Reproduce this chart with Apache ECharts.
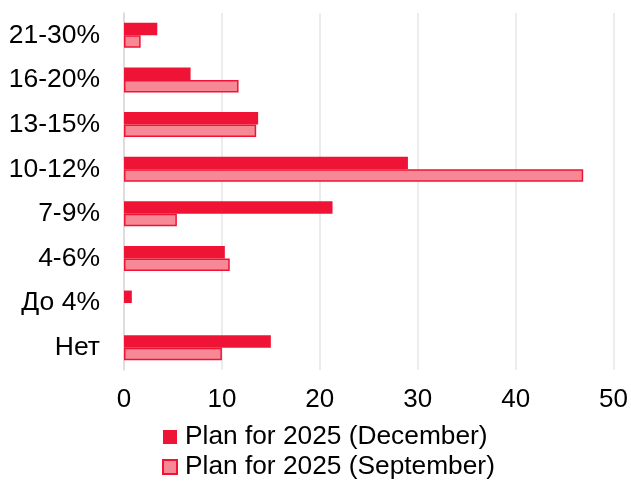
<!DOCTYPE html>
<html><head><meta charset="utf-8">
<script src="https://cdn.jsdelivr.net/npm/echarts@6/dist/echarts.min.js"></script>
<style>html,body{margin:0;padding:0;background:#fff}#c{width:631px;height:482px}</style>
</head><body><div id="c"></div>
<script>
const categories = ['21-30%','16-20%','13-15%','10-12%','7-9%','4-6%','До 4%','Нет'];
const decValues = [3.4, 6.8, 13.7, 29.0, 21.3, 10.3, 0.8, 15.0];
const sepValues = [1.7, 11.7, 13.5, 46.9, 5.4, 10.8, null, 10.0];
const seriesNames = ['Plan for 2025 (December)', 'Plan for 2025 (September)'];
const xTicks = [0, 10, 20, 30, 40, 50];

const chart = echarts.init(document.getElementById('c'), null, {renderer:'canvas'});
chart.setOption({
  animation:false,
  textStyle:{fontFamily:'Liberation Sans, Arial, sans-serif'},
  grid:{left:124, right:17, top:13, bottom:112, containLabel:false},
  legend:{
    orient:'vertical', left:162, top:423, itemGap:2, itemWidth:14, itemHeight:14,
    icon:'rect', padding:0,
    textStyle:{fontSize:26.3, lineHeight:28, color:'#000', fontFamily:'Liberation Sans, Arial, sans-serif', padding:[0,0,0,3]},
    data:seriesNames
  },
  xAxis:{
    type:'value', min:xTicks[0], max:xTicks[xTicks.length-1], interval:10,
    axisLine:{show:false}, axisTick:{show:false},
    axisLabel:{fontSize:26, color:'#000', margin:17},
    splitLine:{lineStyle:{color:'#e6e6e6', width:1.5}}
  },
  yAxis:{
    type:'category', data:categories, inverse:true,
    axisLine:{show:true, lineStyle:{color:'#d9d9d9', width:1.5}},
    axisTick:{show:false},
    axisLabel:{fontSize:26.5, color:'#000', margin:24}
  },
  series:[
    {name:seriesNames[0], type:'bar', data:decValues, barCategoryGap:'44%', barGap:'0%',
     itemStyle:{color:'#EF1436'}},
    {name:seriesNames[1], type:'bar', data:sepValues, barCategoryGap:'44%', barGap:'0%',
     itemStyle:{color:'#F78896', borderColor:'#EF1436', borderWidth:1.5}}
  ]
});
</script></body></html>
